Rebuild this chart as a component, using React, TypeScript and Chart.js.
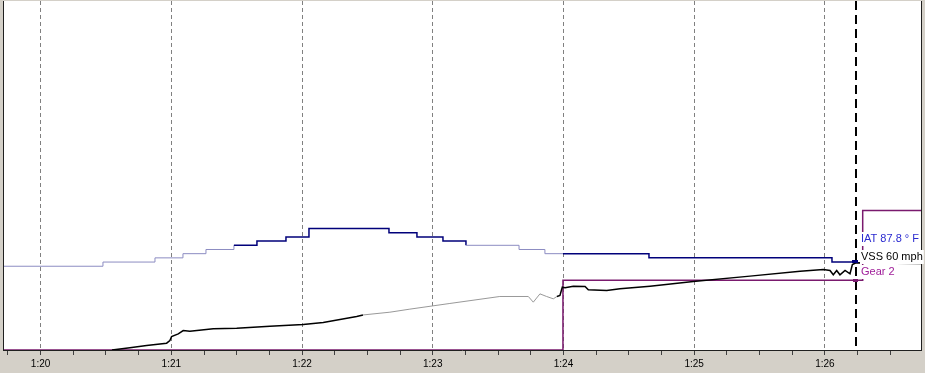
import React, { useEffect, useRef } from 'react';
import { Chart, registerables } from 'chart.js';

Chart.register(...registerables);

// time axis in minutes (1:20 = 80)
const X_MIN = 79.72;
const X_MAX = 86.735;
const TICK_STEP = 0.25;
const CURSOR_TIME = 86.238;

// IAT (°F), stepped
const iatTimes = [79.712, 80.477, 80.875, 81.089, 81.265, 81.479, 81.655, 81.877, 82.053, 82.665, 82.879, 83.078, 83.254, 83.66, 83.858, 83.996, 84.654, 86.054, 86.238];
const iatValues = [86.0, 87.8, 89.6, 91.4, 93.2, 95.0, 96.8, 98.6, 102.2, 100.4, 98.6, 96.8, 95.0, 93.2, 91.4, 91.4, 89.6, 87.8, 87.8];
const iatLightRanges = [[79.0, 81.47], [83.25, 83.99]];

// VSS (mph)
const vssTimes = [80.546, 80.683, 80.811, 80.964, 80.989, 81.002, 81.053, 81.091, 81.142, 81.321, 81.5, 81.754, 82.009, 82.162, 82.418, 82.466, 82.672, 82.825, 83.131, 83.513, 83.731, 83.769, 83.82, 83.871, 83.922, 83.95, 83.973, 83.991, 84.012, 84.075, 84.165, 84.19, 84.331, 84.432, 84.662, 84.993, 85.427, 85.81, 85.988, 86.039, 86.064, 86.09, 86.115, 86.154, 86.192, 86.21, 86.238, 86.346, 86.735];
const vssValues = [0, 1.5, 3.1, 4.7, 6.5, 9.3, 11.1, 13.4, 12.9, 14.6, 15.0, 16.4, 17.5, 18.9, 23.0, 24.1, 26.0, 28.1, 32.0, 36.8, 36.8, 32.9, 38.6, 36.8, 35.2, 36.8, 37.5, 43.2, 42.8, 43.9, 43.7, 41.4, 40.9, 42.1, 43.9, 47.1, 50.8, 54.2, 55.4, 54.7, 51.7, 54.7, 51.7, 54.7, 52.4, 58.8, 60.0, 59.8, 59.5];
const vssGrayRange = [82.46, 83.95];

// Gear, stepped
const gearTimes = [79.72, 83.996, 86.289, 86.735];
const gearValues = [0, 2, 4, 4];

const cursorLabels = ['IAT 87.8 ° F', 'VSS 60 mph', 'Gear 2'];
const cursorLabelColors = ['#2a2ad0', '#000000', '#a0209a'];

const IAT_DARK = '#00007a';
const IAT_LIGHT = '#8c8cc2';
const VSS_DARK = '#000000';
const VSS_GRAY = '#999999';
const GEAR_COLOR = '#7a1a6e';

const isInt = (v: number) => Math.abs(v - Math.round(v)) < 1e-6;
const fmtTime = (v: number) => {
  const m = Math.round(v);
  const s = m % 60;
  return Math.floor(m / 60) + ':' + (s < 10 ? '0' + s : String(s));
};
const inRanges = (x: number, ranges: number[][]) => ranges.some(([a, b]) => x >= a && x < b);

const toPoints = (xs: number[], ys: number[]) => xs.map((x, i) => ({ x, y: ys[i] }));

const overlayPlugin = {
  id: 'overlay',
  beforeDraw(chart: any) {
    const { ctx, chartArea: a, width, height } = chart;
    ctx.save();
    ctx.fillStyle = '#d4d0c8';
    ctx.fillRect(0, 0, width, height);
    ctx.fillStyle = '#ffffff';
    ctx.fillRect(a.left, a.top, a.right - a.left, a.bottom - a.top);
    ctx.restore();
  },
  beforeDatasetsDraw(chart: any) {
    const { ctx, chartArea: a } = chart;
    ctx.save();
    ctx.strokeStyle = '#202020';
    ctx.lineWidth = 1;
    ctx.beginPath();
    ctx.moveTo(a.left - 0.5, a.top);
    ctx.lineTo(a.left - 0.5, a.bottom + 1);
    ctx.moveTo(a.right + 0.5, a.top);
    ctx.lineTo(a.right + 0.5, a.bottom + 1);
    ctx.moveTo(a.left - 1, a.bottom + 0.5);
    ctx.lineTo(a.right + 1, a.bottom + 0.5);
    ctx.stroke();
    ctx.restore();
  },
  afterDatasetsDraw(chart: any) {
    const { ctx, chartArea: a, scales } = chart;
    const cx = Math.round(scales.x.getPixelForValue(CURSOR_TIME));
    ctx.save();
    // cursor line
    ctx.strokeStyle = '#000000';
    ctx.lineWidth = 2;
    ctx.setLineDash([9, 5]);
    ctx.beginPath();
    ctx.moveTo(cx, a.top);
    ctx.lineTo(cx, a.bottom);
    ctx.stroke();
    ctx.setLineDash([]);
    // markers
    const iy = Math.round(scales.iat.getPixelForValue(87.8));
    ctx.fillStyle = IAT_DARK;
    ctx.fillRect(cx - 4, iy - 2, 6, 3);
    const gy = Math.round(scales.gear.getPixelForValue(2));
    ctx.fillStyle = GEAR_COLOR;
    ctx.fillRect(cx - 3, gy - 1, 5, 3);
    // labels
    ctx.font = '11px "Liberation Sans", Arial, sans-serif';
    ctx.textBaseline = 'middle';
    ctx.textAlign = 'left';
    const ys = [239, 257, 272];
    const lx = cx + 5;
    cursorLabels.forEach((t, i) => {
      const w = ctx.measureText(t).width;
      ctx.fillStyle = '#ffffff';
      ctx.fillRect(lx - 1, ys[i] - 7, w + 2, 14);
      ctx.fillStyle = cursorLabelColors[i];
      ctx.fillText(t, lx, ys[i]);
    });
    ctx.restore();
  },
};

export default function App() {
  const ref = useRef<HTMLCanvasElement | null>(null);
  useEffect(() => {
    if (!ref.current) return;
    const chart = new Chart(ref.current, {
      type: 'line',
      data: {
        datasets: [
          {
            label: 'IAT',
            data: toPoints(iatTimes, iatValues),
            yAxisID: 'iat',
            stepped: true,
            pointRadius: 0,
            borderWidth: 1.5,
            borderColor: IAT_DARK,
            segment: {
              borderColor: (c: any) => (inRanges(c.p0.parsed.x, iatLightRanges) ? IAT_LIGHT : IAT_DARK),
              borderWidth: (c: any) => (inRanges(c.p0.parsed.x, iatLightRanges) ? 1 : 1.5),
            },
          },
          {
            label: 'VSS',
            data: toPoints(vssTimes, vssValues),
            yAxisID: 'vss',
            pointRadius: 0,
            tension: 0,
            borderWidth: 1.5,
            borderColor: VSS_DARK,
            segment: {
              borderColor: (c: any) => (c.p0.parsed.x >= vssGrayRange[0] && c.p0.parsed.x < vssGrayRange[1] ? VSS_GRAY : VSS_DARK),
              borderWidth: (c: any) => (c.p0.parsed.x >= vssGrayRange[0] && c.p0.parsed.x < vssGrayRange[1] ? 1 : 1.5),
            },
          },
          {
            label: 'Gear',
            data: toPoints(gearTimes, gearValues),
            yAxisID: 'gear',
            stepped: true,
            pointRadius: 0,
            borderWidth: 1.5,
            borderColor: GEAR_COLOR,
          },
        ],
      },
      options: {
        animation: false,
        responsive: false,
        events: [],
        layout: { padding: { left: 4, right: 4, top: 1, bottom: 0 } },
        plugins: { legend: { display: false }, tooltip: { enabled: false } },
        scales: {
          x: {
            type: 'linear',
            min: X_MIN,
            max: X_MAX,
            afterFit: (scale: any) => {
              scale.height = 23;
            },
            ticks: {
              stepSize: TICK_STEP,
              autoSkip: false,
              maxRotation: 0,
              includeBounds: false,
              padding: 3,
              color: '#000000',
              font: { family: '"Liberation Sans", Arial, sans-serif', size: 10 },
              callback: (v: any) => (isInt(Number(v)) ? fmtTime(Number(v)) : ''),
            },
            grid: {
              color: (c: any) => (c.tick && isInt(c.tick.value) ? '#808080' : 'rgba(0,0,0,0)'),
              tickColor: '#404040',
              tickLength: 5,
              lineWidth: 1,
            },
            border: { display: false, dash: [4, 3] },
          },
          iat: { type: 'linear', min: 50, max: 200, display: false },
          vss: { type: 'linear', min: 0, max: 240, display: false },
          gear: { type: 'linear', min: 0, max: 10, display: false },
        },
      },
      plugins: [overlayPlugin],
    } as any);
    return () => chart.destroy();
  }, []);
  return (
    <div style={{ position: 'fixed', left: 0, top: 0, width: 925, height: 373 }}>
      <canvas ref={ref} width={925} height={373} style={{ display: 'block', width: 925, height: 373 }} />
    </div>
  );
}
